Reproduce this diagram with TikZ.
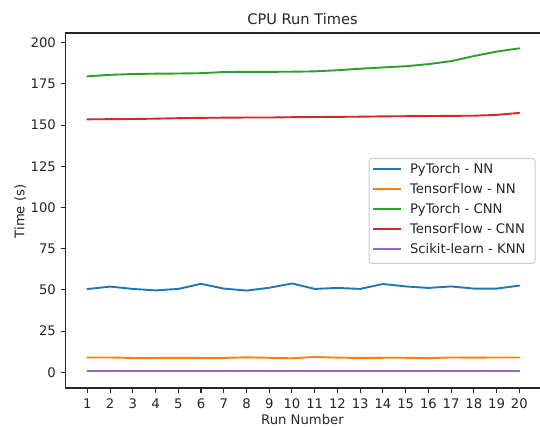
\documentclass[tikz,border=0pt]{standalone}
\usepackage{fontspec}
\setmainfont{DejaVu Sans}
\definecolor{tabblue}{HTML}{1F77B4}
\definecolor{taborange}{HTML}{FF7F0E}
\definecolor{tabgreen}{HTML}{2CA02C}
\definecolor{tabred}{HTML}{D62728}
\definecolor{tabpurple}{HTML}{9467BD}
\definecolor{legendedge}{HTML}{CCCCCC}
\begin{document}
\begin{tikzpicture}[x=1pt,y=-1pt,
  spine/.style={line width=1.05pt,black!85},
  tickmark/.style={line width=1.05pt,black!85},
  ticklabel/.style={font=\fontsize{13.2}{15}\selectfont,inner sep=0pt,text=black!85},
  series/.style={line width=1.9pt,line join=round,line cap=round},
  legtext/.style={font=\fontsize{13.2}{15}\selectfont,inner sep=0pt,anchor=base west,text=black!85}]
\useasboundingbox (0,0) rectangle (540,427);
\fill[white] (0,0) rectangle (540,427);
% data
\begin{scope}[shift={(64.56pt,-372.3pt)},x=22.74pt,y=1.648pt]
\draw[series,tabblue] plot coordinates {(1,50.5) (2,52) (3,50.6) (4,49.7) (5,50.6) (6,53.7) (7,50.8) (8,49.6) (9,51.3) (10,53.9) (11,50.6) (12,51.2) (13,50.6) (14,53.6) (15,52.1) (16,51.2) (17,52.1) (18,50.8) (19,50.8) (20,52.6)};
\draw[series,taborange] plot coordinates {(1,9.0) (2,9.0) (3,8.7) (4,8.7) (5,8.8) (6,8.7) (7,8.7) (8,9.1) (9,8.8) (10,8.5) (11,9.3) (12,8.9) (13,8.7) (14,8.8) (15,8.8) (16,8.6) (17,9.0) (18,8.9) (19,9.0) (20,9.0)};
\draw[series,tabgreen] plot coordinates {(1,179.6) (2,180.5) (3,181) (4,181.2) (5,181.3) (6,181.5) (7,182.2) (8,182.3) (9,182.3) (10,182.4) (11,182.6) (12,183.3) (13,184.2) (14,185) (15,185.7) (16,187) (17,188.8) (18,191.9) (19,194.6) (20,196.6)};
\draw[series,tabred] plot coordinates {(1,153.5) (2,153.6) (3,153.7) (4,153.9) (5,154.2) (6,154.4) (7,154.5) (8,154.6) (9,154.6) (10,154.8) (11,154.9) (12,155) (13,155.1) (14,155.3) (15,155.4) (16,155.5) (17,155.6) (18,155.7) (19,156.2) (20,157.4)};
\draw[series,tabpurple] (1,0.6) -- (20,0.6);
\end{scope}
% spines
\coordinate (tl) at (65.5,33);
\coordinate (bl) at (65.5,388);
\coordinate (tr) at (541,33);
\coordinate (br) at (541,388);
\draw[spine] (tr) -- (tl) -- (bl) -- (br);
% y ticks
\foreach \v in {0,25,...,200}{
  \draw[tickmark] (60.9,{372.3-1.648*\v}) -- (65.5,{372.3-1.648*\v});
  \node[ticklabel,anchor=east] (yl\v) at (56,{372.3-1.648*\v}) {\v};
}
% x ticks
\foreach \i in {1,...,20}{
  \draw[tickmark] ({64.56+22.74*\i},388) -- ({64.56+22.74*\i},392.6);
  \node[ticklabel,anchor=base] (xl\i) at ({64.56+22.74*\i},408.3) {\i};
}
% labels
\node[font=\fontsize{14.6}{17}\selectfont,inner sep=0pt,anchor=base,text=black!85] (title) at (302.5,24.3) {CPU Run Times};
\node[ticklabel,anchor=base] (xlabel) at (302.5,424.6) {Run Number};
\node[ticklabel,anchor=base,rotate=90] (ylabel) at (24.3,211.5) {Time (s)};
% legend
\draw[legendedge,line width=1pt,fill=white,fill opacity=0.8,rounded corners=3pt] (369,158.3) rectangle (535,263.3);
\foreach \r/\c/\t in {0/tabblue/PyTorch - NN,1/taborange/TensorFlow - NN,2/tabgreen/PyTorch - CNN,3/tabred/TensorFlow - CNN,4/tabpurple/Scikit-learn - KNN}{
  \draw[series,line cap=butt,\c] (373.3,{169+20*\r}) -- (400.7,{169+20*\r});
  \node[legtext] (leg\r) at (409.8,{174+20*\r}) {\t};
}
\end{tikzpicture}
\end{document}
